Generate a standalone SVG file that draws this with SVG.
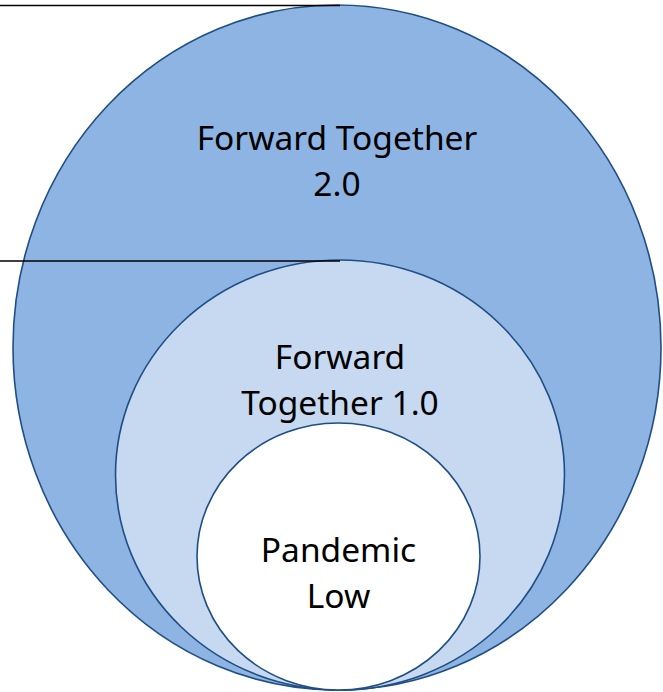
<svg xmlns="http://www.w3.org/2000/svg" width="663" height="692" viewBox="0 0 663 692">
<style>
.c{stroke:#1f4e84;stroke-width:1.6}
.t{font-family:"Noto Sans","Liberation Sans",sans-serif;font-size:33.5px;fill:#000;text-anchor:middle}
.l{stroke:#000;stroke-width:1.5;fill:none}
</style>
<rect width="663" height="692" fill="#fff"/>
<g id="outer">
<ellipse class="c" cx="337" cy="347.5" rx="324" ry="342.5" fill="#8eb4e3"/>
<text class="t" x="337" y="150">Forward Together</text>
<text class="t" x="337" y="196">2.0</text>
</g>
<g id="middle">
<ellipse class="c" cx="340" cy="475" rx="224.5" ry="215" fill="#c6d9f1"/>
<text class="t" x="340" y="369">Forward</text>
<text class="t" x="340" y="415">Together 1.0</text>
</g>
<g id="inner">
<ellipse class="c" cx="338.5" cy="556.5" rx="141.5" ry="133.5" fill="#fff"/>
<text class="t" x="338.5" y="562">Pandemic</text>
<text class="t" x="338.5" y="608">Low</text>
</g>
<g id="connectors">
<line class="l" x1="0" y1="5.5" x2="340" y2="5.5"/>
<line class="l" x1="0" y1="261" x2="340" y2="261"/>
</g>
</svg>
